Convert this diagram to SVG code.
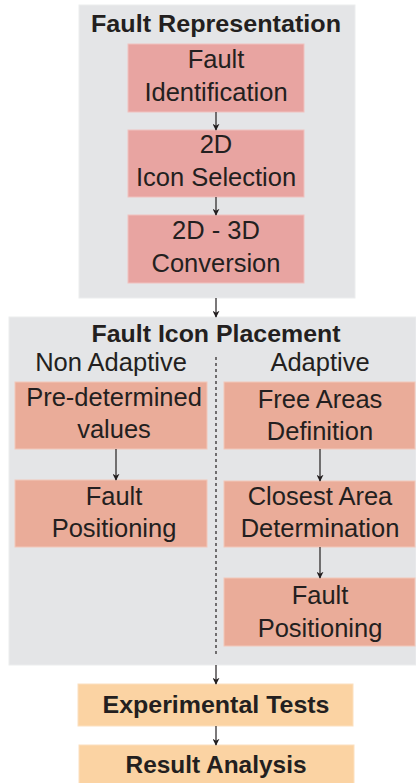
<svg xmlns="http://www.w3.org/2000/svg" width="416" height="783" viewBox="0 0 416 783">
<defs>
<style>
.panel{fill:#E4E5E7;stroke:#ECEDEE;stroke-width:1}
.pink{fill:#E8A4A1;stroke:#F0C2BF;stroke-width:1}
.salmon{fill:#EAAC99;stroke:#F2C8BA;stroke-width:1}
.orange{fill:#FBD3A3;stroke:#FCE0BF;stroke-width:1}
.t{font-family:"Liberation Sans",Arial,sans-serif;fill:#231F20;text-anchor:middle}
.r{font-size:25.5px}
.b{font-size:24px;font-weight:bold}
.c{stroke:#231F20;stroke-width:1.2;fill:none}
</style>
<marker id="ah" viewBox="0 0 10 10" refX="9" refY="5" markerWidth="7" markerHeight="7" markerUnits="userSpaceOnUse" orient="auto">
<path d="M0,0 L10,5 L0,10 L3,5 Z" fill="#231F20"/>
</marker>
</defs>
<rect width="416" height="783" fill="#FFFFFF"/>

<g id="fault-representation">
<rect class="panel" x="79" y="5" width="276" height="293"/>
<text class="t b" x="216" y="32" textLength="250" lengthAdjust="spacingAndGlyphs">Fault Representation</text>
</g>
<g id="fault-identification">
<rect class="pink" x="128" y="44" width="176" height="68"/>
<text class="t r" x="216" y="68">Fault</text>
<text class="t r" x="216" y="101">Identification</text>
</g>
<g id="icon-selection">
<rect class="pink" x="128" y="130" width="176" height="67"/>
<text class="t r" x="216" y="153">2D</text>
<text class="t r" x="216" y="186">Icon Selection</text>
</g>
<g id="conversion">
<rect class="pink" x="128" y="215" width="176" height="68"/>
<text class="t r" x="216" y="239">2D - 3D</text>
<text class="t r" x="216" y="272">Conversion</text>
</g>

<g id="fault-icon-placement">
<rect class="panel" x="9" y="317" width="407" height="348"/>
<text class="t b" x="216" y="342" textLength="249" lengthAdjust="spacingAndGlyphs">Fault Icon Placement</text>
<text class="t r" x="111" y="371">Non Adaptive</text>
<text class="t r" x="320" y="371">Adaptive</text>
</g>
<g id="predetermined">
<rect class="salmon" x="15" y="382" width="192" height="67"/>
<text class="t r" x="114" y="406">Pre-determined</text>
<text class="t r" x="114" y="438">values</text>
</g>
<g id="fault-positioning-left">
<rect class="salmon" x="15" y="480" width="192" height="67"/>
<text class="t r" x="114" y="505">Fault</text>
<text class="t r" x="114" y="537">Positioning</text>
</g>
<g id="free-areas">
<rect class="salmon" x="224" y="382" width="191" height="67"/>
<text class="t r" x="320" y="408">Free Areas</text>
<text class="t r" x="320" y="440">Definition</text>
</g>
<g id="closest-area">
<rect class="salmon" x="224" y="481" width="191" height="66"/>
<text class="t r" x="320" y="505">Closest Area</text>
<text class="t r" x="320" y="537">Determination</text>
</g>
<g id="fault-positioning-right">
<rect class="salmon" x="224" y="578" width="191" height="68"/>
<text class="t r" x="320" y="604">Fault</text>
<text class="t r" x="320" y="637">Positioning</text>
</g>

<g id="experimental-tests">
<rect class="orange" x="78" y="684" width="275" height="42"/>
<text class="t b" x="216" y="713" textLength="227" lengthAdjust="spacingAndGlyphs">Experimental Tests</text>
</g>
<g id="result-analysis">
<rect class="orange" x="79" y="745" width="275" height="42"/>
<text class="t b" x="216" y="773" textLength="181" lengthAdjust="spacingAndGlyphs">Result Analysis</text>
</g>

<g id="connectors">
<line class="c" x1="216" y1="112" x2="216" y2="130" marker-end="url(#ah)"/>
<line class="c" x1="216" y1="197" x2="216" y2="215" marker-end="url(#ah)"/>
<line class="c" x1="216" y1="298" x2="216" y2="317" marker-end="url(#ah)"/>
<line class="c" x1="216" y1="357" x2="216" y2="656" stroke-dasharray="3,3"/>
<line class="c" x1="216" y1="665" x2="216" y2="684" marker-end="url(#ah)"/>
<line class="c" x1="216" y1="726" x2="216" y2="745" marker-end="url(#ah)"/>
<line class="c" x1="116" y1="449" x2="116" y2="480" marker-end="url(#ah)"/>
<line class="c" x1="320" y1="449" x2="320" y2="481" marker-end="url(#ah)"/>
<line class="c" x1="320" y1="547" x2="320" y2="578" marker-end="url(#ah)"/>
</g>
</svg>
